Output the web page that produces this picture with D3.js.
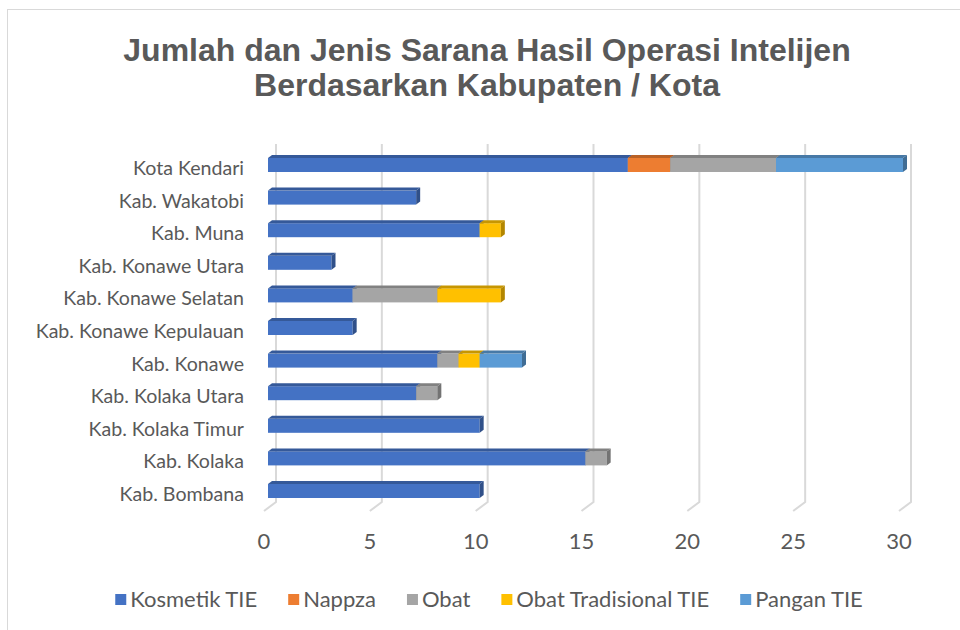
<!DOCTYPE html>
<html>
<head>
<meta charset="utf-8">
<script src="https://cdn.jsdelivr.net/npm/d3@7"></script>
<style>
	body { margin: 0; background: #fff; }
	svg { display: block; }
	.lbl { font-family: Lato, "Open Sans", sans-serif; fill: #595959; }
</style>
</head>
<body>
<div id="chart"></div>
<script>
// categories, bottom to top as in the sheet
const categories = ["Kab. Bombana", "Kab. Kolaka", "Kab. Kolaka Timur", "Kab. Kolaka Utara", "Kab. Konawe",
	"Kab. Konawe Kepulauan", "Kab. Konawe Selatan", "Kab. Konawe Utara", "Kab. Muna", "Kab. Wakatobi", "Kota Kendari"];
const seriesNames = ["Kosmetik TIE", "Nappza", "Obat", "Obat Tradisional TIE", "Pangan TIE"];
const kosmetik = [10, 15, 10, 7, 8, 4, 4, 3, 10, 7, 17];
const nappza = [0, 0, 0, 0, 0, 0, 0, 0, 0, 0, 2];
const obat = [0, 1, 0, 1, 1, 0, 4, 0, 0, 0, 5];
const obatTradisional = [0, 0, 0, 0, 1, 0, 3, 0, 1, 0, 0];
const pangan = [0, 0, 0, 0, 2, 0, 0, 0, 0, 0, 6];
const xTicks = [0, 5, 10, 15, 20, 25, 30];
const colors = ["#4472C4", "#ED7D31", "#A5A5A5", "#FFC000", "#5B9BD5"];
const titleLines = ["Jumlah dan Jenis Sarana Hasil Operasi Intelijen", "Berdasarkan Kabupaten / Kota"];

const W = 960, H = 630;
const depthX = 4, depthY = -3, barH = 14;   // little 3D extrusion of the bars

let rows = categories.map((c, i) => ({
	cat: c,
	"Kosmetik TIE": kosmetik[i],
	"Nappza": nappza[i],
	"Obat": obat[i],
	"Obat Tradisional TIE": obatTradisional[i],
	"Pangan TIE": pangan[i]
}));
let stacked = d3.stack().keys(seriesNames)(rows);

let svg = d3.select("#chart").append("svg").attr("width", W).attr("height", H);

// chart area border
svg.append("rect").attr("x", 7.5).attr("y", 9.5).attr("width", W).attr("height", H)
	.attr("fill", "#fff").attr("stroke", "#D9D9D9");

//-----------------------------------
// title
svg.append("text")
	.attr("x", 487).attr("y", 61)
	.attr("text-anchor", "middle")
	.style("font-family", "'Liberation Sans', Arial, sans-serif")
	.style("font-weight", "bold").style("font-size", "32px").style("fill", "#595959")
	.selectAll("tspan").data(titleLines).join("tspan")
	.attr("x", 487).attr("dy", (d, i) => i === 0 ? 0 : 35)
	.text(d => d);

//-----------------------------------
// scales: back wall and bar faces
let xBack = d3.scaleLinear().domain([0, 30]).range([276, 911]);
let xBar = d3.scaleLinear().domain([0, 30]).range([268, 903]);
let y = d3.scalePoint().domain(categories).range([491, 165]);
const wallTop = 144, wallBottom = 502, floorDx = -12, floorDy = 9;

// gridlines, bent on the floor
svg.append("g").selectAll("path").data(xTicks).join("path")
	.attr("d", d => "M" + xBack(d) + "," + wallTop + "V" + wallBottom + "l" + floorDx + "," + floorDy)
	.attr("fill", "none").attr("stroke", "#D9D9D9").attr("stroke-width", 2);

// tick labels
svg.append("g").selectAll("text").data(xTicks).join("text")
	.attr("class", "lbl")
	.attr("x", d => xBack(d) + floorDx).attr("y", 549)
	.attr("text-anchor", "middle").style("font-size", "22px")
	.text(d => d);

// category labels
svg.append("g").selectAll("text").data(categories).join("text")
	.attr("class", "lbl")
	.attr("x", 244).attr("y", d => y(d) + 10)
	.attr("text-anchor", "end").style("font-size", "19.6px")
	.text(d => d);

//-----------------------------------
// bars: each segment has front, top and right faces
let gBars = svg.append("g");
categories.forEach((c, i) => {
	let cy = y(c);
	stacked.forEach((s, k) => {
		let v0 = s[i][0], v1 = s[i][1];
		if (v1 - v0 <= 0) return;
		let x0 = xBar(v0), x1 = xBar(v1);
		let base = d3.color(colors[k]);
		let top = cy - barH / 2, bot = cy + barH / 2;

		gBars.append("rect")
			.attr("x", x0).attr("y", top).attr("width", x1 - x0).attr("height", barH)
			.attr("fill", colors[k]);
		gBars.append("path")
			.attr("d", "M" + x0 + "," + top + "L" + x1 + "," + top + "l" + depthX + "," + depthY +
				"L" + (x0 + depthX) + "," + (top + depthY) + "Z")
			.attr("fill", base.darker(0.7));
		gBars.append("path")
			.attr("d", "M" + x1 + "," + top + "l" + depthX + "," + depthY + "L" + (x1 + depthX) + "," + (bot + depthY) +
				"L" + x1 + "," + bot + "Z")
			.attr("fill", base.darker(1));
	});
});

//-----------------------------------
// legend, laid out from measured text widths and centered
let gLeg = svg.append("g");
let legX = 0;
seriesNames.forEach((n, k) => {
	let g = gLeg.append("g").attr("transform", "translate(" + legX + ",0)");
	g.append("rect").attr("x", 0).attr("y", 594).attr("width", 11).attr("height", 11).attr("fill", colors[k]);
	let t = g.append("text").attr("class", "lbl").attr("x", 15).attr("y", 607)
		.style("font-size", "22px").text(n);
	legX += 15 + t.node().getComputedTextLength() + 31;
});
let legW = legX - 31;
gLeg.attr("transform", "translate(" + (489 - legW / 2) + ",0)");
</script>
</body>
</html>
